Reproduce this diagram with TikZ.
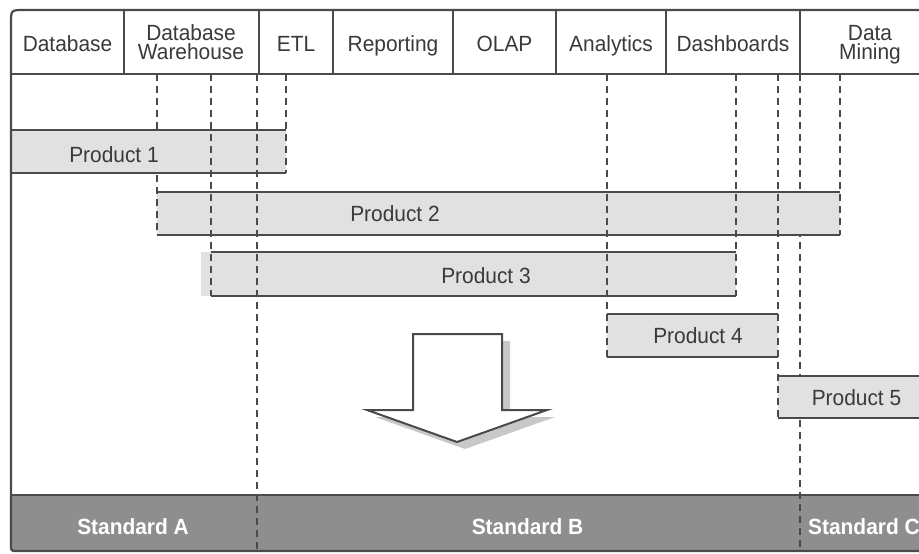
\documentclass[tikz,border=0pt]{standalone}
\usepackage{fontspec}
\setmainfont{Liberation Sans}[FakeStretch=0.95]
\definecolor{ln}{HTML}{4A4A4A}
\definecolor{tx}{HTML}{3A3A3A}
\definecolor{pf}{HTML}{E1E1E1}
\definecolor{bandc}{HTML}{8E8E8E}
\definecolor{shd}{HTML}{C8C8C8}
\tikzset{
  solidln/.style={draw=ln, line width=2.2pt},
  dashln/.style={draw=ln, line width=2pt, dash pattern=on 7pt off 5pt},
  prodfill/.style={fill=pf},
  headtxt/.style={text=tx, font=\fontsize{22}{19}\selectfont, inner sep=0pt, anchor=base, align=center},
  prodtxt/.style={text=tx, font=\fontsize{22}{18}\selectfont, inner sep=0pt, anchor=base},
  stdtxt/.style={text=white, font=\bfseries\fontsize{22}{18}\selectfont, inner sep=0pt, anchor=base},
}
\begin{document}
\begin{tikzpicture}[x=1pt,y=-1pt]
\useasboundingbox (0,0) rectangle (919,554);
\clip (0,0) rectangle (919,554);
\fill[white] (0,0) rectangle (919,554);

% dashed guide lines hidden behind bars
\draw[dashln] (157,74) -- (157,130);
\draw[dashln] (800,74) -- (800,376);

% product bars
\fill[prodfill] (11,130) rectangle (286,173);
\fill[prodfill] (157,192) rectangle (840,235);
\fill[prodfill] (201,252) rectangle (736,296);
\fill[prodfill] (607,314) rectangle (778,357);
\fill[prodfill] (778,376) rectangle (930,418);
\draw[solidln] (11,130) -- (286,130) (11,173) -- (286,173);
\draw[solidln] (157,192) -- (840,192) (157,235) -- (840,235);
\draw[solidln] (211,252) -- (736,252) (211,296) -- (736,296);
\draw[solidln] (607,314) -- (778,314) (607,357) -- (778,357);
\draw[solidln] (778,376) -- (930,376) (778,418) -- (930,418);

% band
\fill[bandc] (11,495) -- (930,495) -- (930,551) -- (17,551) .. controls (11,551) .. (11,545) -- cycle;
\draw[solidln] (11,495) -- (930,495);

% dashed guide lines
\draw[dashln] (157,175) -- (157,235);
\draw[dashln] (211,74) -- (211,296);
\draw[dashln] (257,74) -- (257,551);
\draw[dashln] (286,74) -- (286,173);
\draw[dashln] (607,74) -- (607,357);
\draw[dashln] (736,74) -- (736,296);
\draw[dashln] (778,74) -- (778,418);
\draw[dashln] (800,420) -- (800,551);
\draw[dashln] (840,74) -- (840,235);

% frame and header
\draw[solidln] (930,10) -- (24,10) .. controls (11,10) .. (11,23) -- (11,545) .. controls (11,551) .. (17,551) -- (930,551);
\draw[solidln] (11,74) -- (930,74);
\foreach \xx in {124,259,333,453,556,666,800} \draw[solidln] (\xx,10) -- (\xx,74);

% arrow
\fill[shd] (421,341) -- (510,341) -- (510,417) -- (555,417) -- (465,449) -- (375,417) -- (421,417) -- cycle;
\draw[solidln, fill=white, line width=2pt] (413,334) -- (502,334) -- (502,410) -- (547,410) -- (457,442) -- (367,410) -- (413,410) -- cycle;

% header texts
\node[headtxt] (h1) at (67.5,51) {Database};
\node[headtxt] (h2) at (191,59) {Database\\Warehouse};
\node[headtxt] (h3) at (296,51) {ETL};
\node[headtxt] (h4) at (393,51) {Reporting};
\node[headtxt] (h5) at (504.5,51) {OLAP};
\node[headtxt] (h6) at (611,51) {Analytics};
\node[headtxt] (h7) at (733,51) {Dashboards};
\node[headtxt] (h8) at (870,59) {Data\\Mining};

% product texts
\node[prodtxt] (p1) at (114,162) {Product 1};
\node[prodtxt] (p2) at (395,221) {Product 2};
\node[prodtxt] (p3) at (486,283) {Product 3};
\node[prodtxt] (p4) at (698,343) {Product 4};
\node[prodtxt] (p5) at (856.5,405) {Product 5};

% standards
\node[stdtxt] (sa) at (133,534) {Standard A};
\node[stdtxt] (sb) at (527.5,534) {Standard B};
\node[stdtxt, anchor=base west] (sc) at (808,534) {Standard C};
\end{tikzpicture}
\end{document}
